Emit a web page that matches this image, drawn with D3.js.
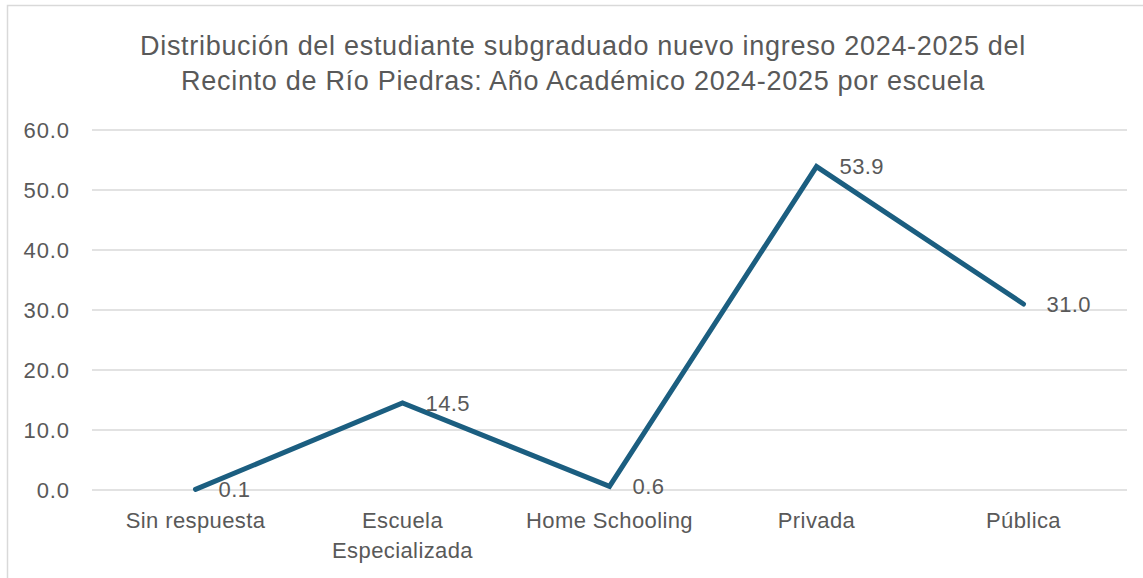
<!DOCTYPE html>
<html><head><meta charset="utf-8">
<script src="https://cdn.jsdelivr.net/npm/d3@7"></script>
<style>body{margin:0;background:#fff}svg{display:block}text{font-family:"Liberation Sans",Arial,sans-serif;fill:#595959}</style>
</head><body><svg id="c" width="1143" height="578"></svg>
<script>
const categories = ["Sin respuesta", "Escuela\nEspecializada", "Home Schooling", "Privada", "Pública"];
const values = [0.1, 14.5, 0.6, 53.9, 31.0];
const yTicks = [0, 10, 20, 30, 40, 50, 60];
const titleLines = ["Distribución del estudiante subgraduado nuevo ingreso 2024-2025 del", "Recinto de Río Piedras: Año Académico 2024-2025 por escuela"];

const svg = d3.select("#c");
svg.append("rect").attr("x",7.5).attr("y",5.5).attr("width",1150).attr("height",600).attr("fill","#fff").attr("stroke","#d9d9d9").attr("stroke-width",1.5);

const x = d3.scaleBand().domain(categories).range([92,1127]);
const y = d3.scaleLinear().domain([0,60]).range([490,130]);

svg.append("g").selectAll("line").data(yTicks).join("line")
  .attr("x1",92).attr("x2",1127).attr("y1",d=>y(d)).attr("y2",d=>y(d))
  .attr("stroke","#d9d9d9").attr("stroke-width",1.5);

const yAxis = svg.append("g").attr("transform","translate(70,0)")
  .call(d3.axisLeft(y).tickValues(yTicks).tickFormat(d3.format(".1f")).tickSize(0).tickPadding(0));
yAxis.select(".domain").remove();
yAxis.selectAll("text").style("font-family","'Liberation Sans',Arial,sans-serif").style("font-size","22px").style("letter-spacing","0.9px").attr("fill","#595959").attr("dy","0.35em");

const xAxis = svg.append("g").attr("transform","translate(0,490)")
  .call(d3.axisBottom(x).tickSize(0).tickFormat(""));
xAxis.select(".domain").remove();
xAxis.selectAll(".tick").each(function(d){
  const lines = d.split("\n");
  const t = d3.select(this).append("text").attr("text-anchor","middle")
    .style("font-size","22px").style("letter-spacing","0.4px").attr("fill","#595959");
  lines.forEach((l,i)=>t.append("tspan").attr("x",0).attr("y",38+i*30).text(l));
});

const cx = d => x(d) + x.bandwidth()/2;
const line = d3.line().x((d,i)=>cx(categories[i])).y(d=>y(d));
svg.append("path").datum(values).attr("d",line).attr("fill","none")
  .attr("stroke","#1b5e80").attr("stroke-width",5).attr("stroke-linejoin","miter").attr("stroke-linecap","round");

svg.append("g").selectAll("text").data(values).join("text")
  .attr("x",(d,i)=>cx(categories[i])+23).attr("y",d=>y(d)).attr("dy","0.35em")
  .style("font-size","22px").style("letter-spacing","0.4px").attr("fill","#404040").text(d=>d3.format(".1f")(d));

svg.append("g").selectAll("text").data(titleLines).join("text")
  .attr("x",583).attr("y",(d,i)=>55+i*35).attr("text-anchor","middle")
  .style("font-size","27px").style("letter-spacing","0.7px").attr("fill","#595959").text(d=>d);
</script></body></html>
